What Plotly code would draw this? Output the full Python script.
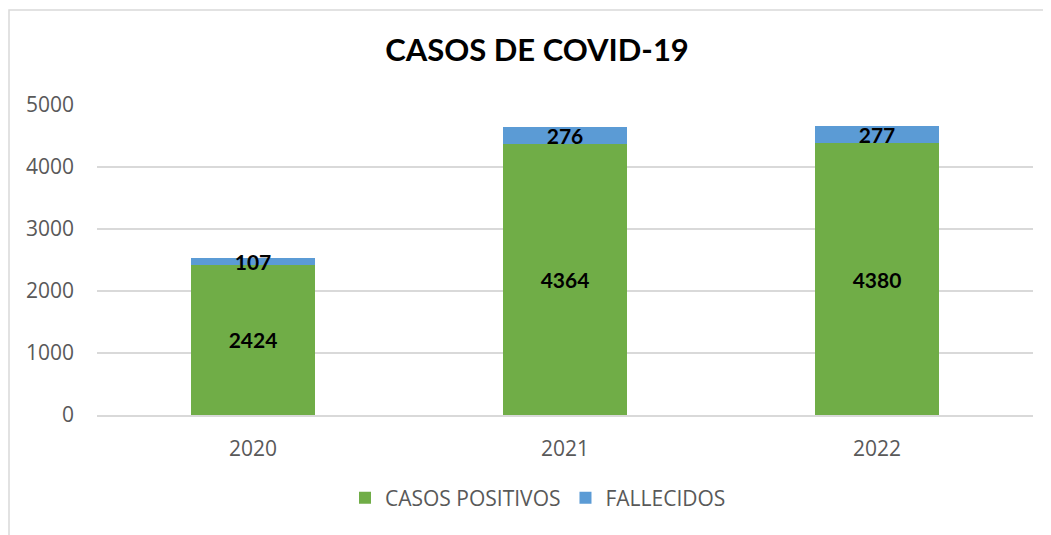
import plotly.graph_objects as go

years = ["2020", "2021", "2022"]
positivos = [2424, 4364, 4380]
fallecidos = [107, 276, 277]
y_ticks = [0, 1000, 2000, 3000, 4000, 5000]

GRAY = "#595959"
GRID = "#d9d9d9"
FONT = "Open Sans"
OFF = 8  # page body margin offset

fig = go.Figure()
fig.add_trace(go.Bar(
    x=years, y=positivos, name="CASOS POSITIVOS",
    marker=dict(color="#70AD47", line=dict(width=0)),
    text=positivos, textposition="inside", insidetextanchor="middle",
    textfont=dict(family="Lato", size=21, color="black", weight="bold"),
    width=0.4,
))
fig.add_trace(go.Bar(
    x=years, y=fallecidos, name="FALLECIDOS",
    marker=dict(color="#5B9BD5", line=dict(width=0)),
    text=fallecidos, textposition="inside", insidetextanchor="middle",
    textfont=dict(family="Lato", size=21, color="black", weight="bold"),
    width=0.4,
))

W, H = 1051 - OFF, 535 - OFF
ml, mt = 97 - OFF, 105 - OFF
mr = W - (1033 - OFF)
mb = H - (415 - OFF)
pw = W - ml - mr
ph = H - mt - mb

def px_x(p):
    return (p - OFF - ml) / pw

def px_y(p):
    return (H - mb - (p - OFF)) / ph

fig.update_layout(
    barmode="stack",
    width=W, height=H,
    margin=dict(l=ml, r=mr, t=mt, b=mb, autoexpand=False),
    paper_bgcolor="white", plot_bgcolor="white",
    font=dict(family=FONT, color=GRAY, size=21),
    uniformtext=dict(minsize=21, mode="show"),
    title=dict(text="<b>CASOS DE COVID-19</b>", x=(537 - OFF) / W, xanchor="center",
               y=1 - (50 - OFF) / H, yanchor="middle",
               font=dict(family="Lato", size=31, color="black")),
    showlegend=True,
    legend=dict(orientation="h", x=px_x(538), xanchor="center",
                y=px_y(498), yanchor="middle",
                font=dict(family=FONT, size=21, color=GRAY),
                itemwidth=30, traceorder="normal"),
    xaxis=dict(showgrid=False, showline=True, linecolor=GRID, linewidth=1.5,
               ticks="", ticklabelstandoff=14,
               tickfont=dict(family=FONT, size=21, color=GRAY)),
    yaxis=dict(range=[0, 5000], tickvals=y_ticks, showgrid=True,
               gridcolor=GRID, gridwidth=1.5, zeroline=False, showline=False,
               ticks="", ticklabelstandoff=22,
               tickfont=dict(family=FONT, size=21, color=GRAY)),
    shapes=[dict(type="rect", xref="paper", yref="paper",
                 x0=px_x(9), x1=px_x(1070), y0=px_y(560), y1=px_y(10),
                 line=dict(color=GRID, width=1.5), fillcolor="rgba(0,0,0,0)",
                 layer="below")],
)

fig.write_html("out.html")
